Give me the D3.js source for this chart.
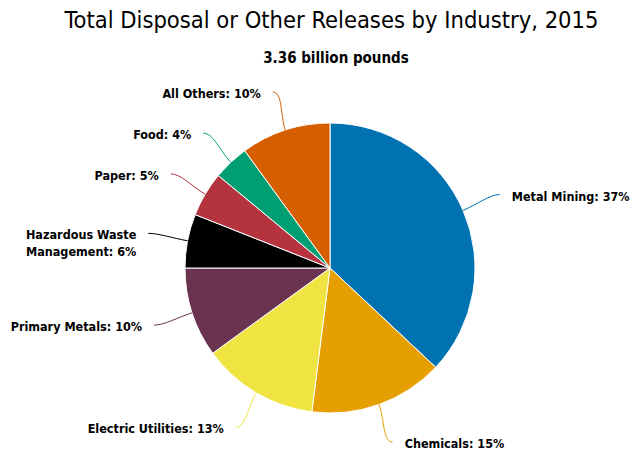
<!DOCTYPE html>
<html>
<head>
<meta charset="utf-8">
<script src="https://cdn.jsdelivr.net/npm/d3@7"></script>
<style>
  html, body { margin: 0; padding: 0; background: #fff; }
  svg { display: block; }
  text { font-family: "DejaVu Sans Condensed", "DejaVu Sans", sans-serif; font-stretch: condensed; }
</style>
</head>
<body>
<svg id="chart" width="634" height="451"></svg>
<script>
// Industry shares of total disposal or other releases, 2015 (percent)
const categories = ["Metal Mining", "Chemicals", "Electric Utilities", "Primary Metals",
                    "Hazardous Waste Management", "Paper", "Food", "All Others"];
const shares = [37, 15, 13, 10, 6, 5, 4, 10];
const colors = ["#0072b2", "#e69f00", "#f0e442", "#6a3451",
                "#000000", "#b5333f", "#009e73", "#d55e00"];
// Labels that break onto a second line (word count on the first line)
const labelBreaks = { "Hazardous Waste Management": 2 };

const titleText = "Total Disposal or Other Releases by Industry, 2015";
const subtitleText = "3.36 billion pounds";

const svg = d3.select("#chart");
const W = 634;
const cx = 330, cy = 268, R = 145;
const labelR = 185;

svg.append("text")
  .attr("x", W / 2 + 14.5).attr("y", 28)
  .attr("text-anchor", "middle")
  .attr("font-size", 23.5)
  .attr("fill", "#000")
  .text(titleText);

svg.append("text")
  .attr("x", W / 2 + 19).attr("y", 63)
  .attr("text-anchor", "middle")
  .attr("font-size", 15)
  .attr("font-weight", "bold")
  .attr("fill", "#000")
  .text(subtitleText);

const data = categories.map((c, i) => ({ name: c, value: shares[i], color: colors[i] }));

const pie = d3.pie().value(d => d.value).sort(null);
const arcs = pie(data);
const arc = d3.arc().innerRadius(0).outerRadius(R);

const g = svg.append("g").attr("transform", `translate(${cx},${cy})`);

g.selectAll("path.slice")
  .data(arcs)
  .join("path")
  .attr("class", "slice")
  .attr("d", arc)
  .attr("fill", d => d.data.color)
  .attr("stroke", "#fff")
  .attr("stroke-width", 1)
  .attr("stroke-linejoin", "round");

const polar = (a, r) => [Math.sin(a) * r, -Math.cos(a) * r];

arcs.forEach(d => {
  const mid = (d.startAngle + d.endAngle) / 2;
  const right = Math.sin(mid) >= 0;
  const edge = polar(mid, R);
  const bend = polar(mid, R + 16);
  const end = polar(mid, labelR);
  const dir = right ? 1 : -1;

  const path = d3.path();
  path.moveTo(end[0], end[1]);
  path.bezierCurveTo(end[0] - dir * 10, end[1], bend[0], bend[1], edge[0], edge[1]);
  g.append("path")
    .attr("d", path.toString())
    .attr("fill", "none")
    .attr("stroke", d.data.color)
    .attr("stroke-width", 1);

  const words = d.data.name.split(" ");
  const brk = labelBreaks[d.data.name];
  const full = `${d.data.name}: ${d.data.value}%`;
  const lines = brk
    ? [words.slice(0, brk).join(" "), words.slice(brk).join(" ") + `: ${d.data.value}%`]
    : [full];

  const t = g.append("text")
    .attr("x", end[0] + dir * 12)
    .attr("y", end[1] + 6)
    .attr("text-anchor", right ? "start" : "end")
    .attr("font-size", 12.5)
    .attr("font-weight", "bold")
    .attr("fill", "#000");
  lines.forEach((ln, i) => {
    t.append("tspan")
      .attr("x", end[0] + dir * 12)
      .attr("dy", i === 0 ? 0 : 17)
      .text(ln);
  });
});
</script>
</body>
</html>
